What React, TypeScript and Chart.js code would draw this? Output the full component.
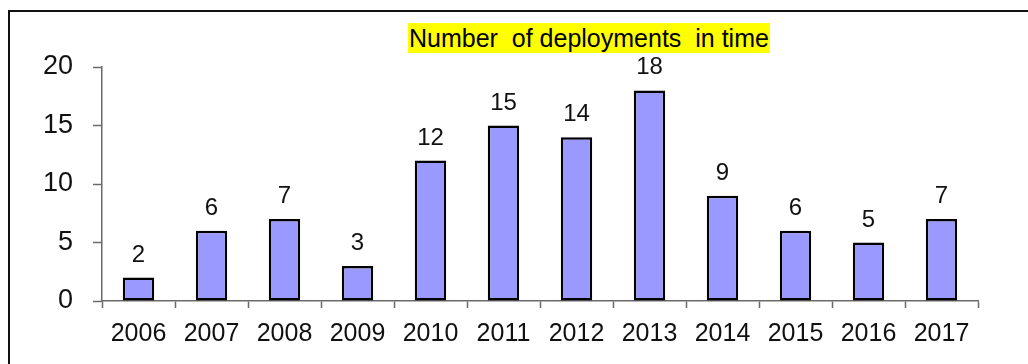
import React, { useEffect, useRef } from "react";
import { Chart, registerables } from "chart.js";

Chart.register(...registerables);

const title = "Number  of deployments  in time";
const years = ["2006", "2007", "2008", "2009", "2010", "2011", "2012", "2013", "2014", "2015", "2016", "2017"];
const deployments = [2, 6, 7, 3, 12, 15, 14, 18, 9, 6, 5, 7];
const yTicks = [0, 5, 10, 15, 20];

const FONT = "'Liberation Sans', Arial, sans-serif";
const AXIS = "#6a6a6a";

const valueLabels = {
  id: "valueLabels",
  afterDatasetsDraw(chart: any) {
    const ctx = chart.ctx;
    const meta = chart.getDatasetMeta(0);
    ctx.save();
    ctx.font = `24px ${FONT}`;
    ctx.fillStyle = "#111";
    ctx.textAlign = "center";
    ctx.textBaseline = "alphabetic";
    meta.data.forEach((bar: any, i: number) => {
      ctx.fillText(String(chart.data.datasets[0].data[i]), bar.x, bar.y - 16);
    });
    ctx.restore();
  },
};

export default function App() {
  const ref = useRef<HTMLCanvasElement | null>(null);

  useEffect(() => {
    if (!ref.current) return;
    const chart = new Chart(ref.current, {
      type: "bar",
      data: {
        labels: years,
        datasets: [
          {
            data: deployments,
            backgroundColor: "#9999FF",
            borderColor: "#000000",
            borderWidth: 2.5,
            borderSkipped: false,
            barPercentage: 0.43,
            categoryPercentage: 1,
          },
        ],
      },
      options: {
        animation: false,
        responsive: false,
        maintainAspectRatio: false,
        layout: { padding: { top: 55, right: 50, left: 0, bottom: 0 } },
        plugins: {
          legend: { display: false },
          tooltip: { enabled: false },
          title: { display: false },
        },
        scales: {
          x: {
            offset: true,
            grid: {
              display: true,
              offset: true,
              drawOnChartArea: false,
              drawTicks: true,
              tickLength: 7,
              tickColor: AXIS,
              tickWidth: 1.5,
            },
            border: { display: true, color: AXIS, width: 1.5 },
            ticks: {
              color: "#111",
              font: { family: FONT, size: 25 },
              padding: 11,
              maxRotation: 0,
              autoSkip: false,
            },
            afterFit(scale: any) {
              scale.height = 63;
            },
          },
          y: {
            min: 0,
            max: 20,
            afterBuildTicks(scale: any) {
              scale.ticks = yTicks.map((v) => ({ value: v }));
            },
            grid: {
              display: true,
              drawOnChartArea: false,
              drawTicks: true,
              tickLength: 9,
              tickColor: AXIS,
              tickWidth: 1.5,
            },
            border: { display: true, color: AXIS, width: 1.5 },
            ticks: {
              color: "#111",
              font: { family: FONT, size: 27 },
              padding: 20,
            },
            afterFit(scale: any) {
              scale.width = 92;
            },
          },
        },
      },
      plugins: [valueLabels],
    });
    return () => chart.destroy();
  }, []);

  return (
    <div
      style={{
        position: "absolute",
        left: 8,
        top: 10,
        width: 1020,
        height: 354,
        boxSizing: "border-box",
        borderTop: "2px solid #111",
        borderLeft: "2px solid #111",
        background: "#fff",
        overflow: "hidden",
      }}
    >
      <canvas
        ref={ref}
        width={1018}
        height={352}
        style={{ position: "absolute", left: 0, top: 0, width: 1018, height: 352 }}
      />
      <span
        style={{
          position: "absolute",
          left: 398,
          top: 11,
          height: 30,
          lineHeight: "30px",
          background: "#FFFF00",
          fontFamily: FONT,
          fontSize: 25,
          color: "#000",
          whiteSpace: "pre",
          padding: "0 1px",
        }}
      >
        {title}
      </span>
    </div>
  );
}
